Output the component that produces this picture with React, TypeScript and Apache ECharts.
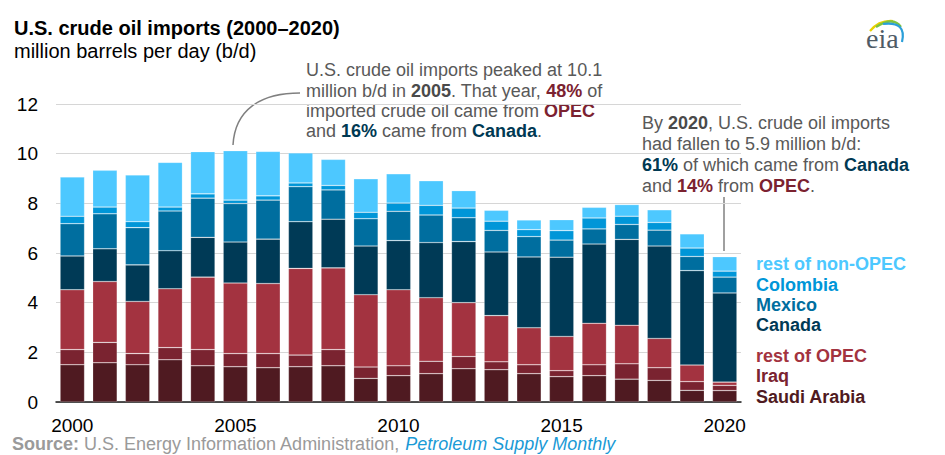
import React, { useEffect, useRef } from "react";
import * as echarts from "echarts";

const years = ["2000","2001","2002","2003","2004","2005","2006","2007","2008","2009","2010","2011","2012","2013","2014","2015","2016","2017","2018","2019","2020"];
const saudiArabia = [1.50,1.58,1.50,1.70,1.46,1.42,1.38,1.42,1.46,0.95,1.06,1.14,1.34,1.30,1.14,1.02,1.06,0.92,0.87,0.47,0.46];
const iraq = [0.61,0.82,0.45,0.49,0.65,0.53,0.57,0.47,0.65,0.46,0.40,0.50,0.49,0.32,0.36,0.24,0.44,0.62,0.51,0.35,0.21];
const restOfOPEC = [2.41,2.45,2.10,2.37,2.92,2.84,2.82,3.49,3.29,2.91,3.06,2.56,2.17,1.86,1.49,1.38,1.67,1.55,1.18,0.67,0.13];
const canada = [1.36,1.32,1.47,1.53,1.60,1.65,1.79,1.88,1.96,1.96,1.98,2.22,2.46,2.56,2.85,3.19,3.19,3.46,3.72,3.80,3.59];
const mexico = [1.30,1.41,1.50,1.60,1.58,1.55,1.57,1.41,1.18,1.10,1.18,1.11,0.96,0.87,0.82,0.69,0.61,0.60,0.64,0.57,0.64];
const colombia = [0.30,0.27,0.24,0.16,0.17,0.14,0.17,0.15,0.18,0.26,0.33,0.39,0.39,0.37,0.28,0.38,0.44,0.33,0.31,0.34,0.24];
const restOfNonOPEC = [1.58,1.48,1.88,1.80,1.70,1.99,1.79,1.21,1.05,1.35,1.18,0.99,0.70,0.44,0.39,0.44,0.43,0.47,0.51,0.57,0.58];
const yTicks = { min: 0, max: 12, interval: 2 };

const FONT = "'Liberation Sans', Arial, Helvetica, sans-serif";
const C = {
  saudi: "#4F1A21",
  iraq: "#7A2330",
  restOPEC: "#A33340",
  canada: "#003A56",
  mexico: "#006E9F",
  colombia: "#0096D8",
  restNon: "#4DC8FF",
};
const GRAY = "#595959";

function rp(size: number, weight: string, fill: string, style = "normal") {
  return { fontSize: size, fontFamily: FONT, fontWeight: weight, fontStyle: style, fill };
}

function txt(text: string, x: number, y: number, size: number, weight: string, fill: string, rich?: any, align = "left") {
  return {
    type: "text",
    x,
    y,
    silent: true,
    style: {
      text,
      fontSize: size,
      fontFamily: FONT,
      fontWeight: weight,
      fill,
      align,
      verticalAlign: "middle",
      rich: rich || {},
    },
  };
}

export default function App() {
  const ref = useRef<HTMLDivElement>(null);
  useEffect(() => {
    const chart = echarts.init(ref.current!, null, { renderer: "svg" });
    const mk = (name: string, data: number[], color: string) => ({
      name,
      type: "bar",
      stack: "total",
      data,
      barCategoryGap: "25%",
      itemStyle: { color, borderColor: "rgba(255,255,255,0.35)", borderWidth: 0.6 },
      emphasis: { disabled: true },
    });
    const annRich = {
      b: rp(18, "bold", "#4a4a4a"),
      r: rp(18, "bold", "#7B2230"),
      c: rp(18, "bold", "#003953"),
    };
    const option: any = {
      animation: false,
      grid: { left: 56, right: 204, top: 104, bottom: 53 },
      xAxis: {
        type: "category",
        data: years,
        axisTick: { show: false },
        axisLine: { lineStyle: { color: "#1a1a1a", width: 1.5 } },
        axisLabel: { interval: 4, fontSize: 19, fontFamily: FONT, color: "#000", margin: 14 },
      },
      yAxis: {
        type: "value",
        min: yTicks.min,
        max: yTicks.max,
        interval: yTicks.interval,
        axisLine: { show: false },
        axisTick: { show: false },
        axisLabel: { fontSize: 19, fontFamily: FONT, color: "#000", margin: 18 },
        splitLine: { lineStyle: { color: "#d6d6d6", width: 1.2 } },
      },
      series: [
        mk("Saudi Arabia", saudiArabia, C.saudi),
        mk("Iraq", iraq, C.iraq),
        mk("rest of OPEC", restOfOPEC, C.restOPEC),
        mk("Canada", canada, C.canada),
        mk("Mexico", mexico, C.mexico),
        mk("Colombia", colombia, C.colombia),
        mk("rest of non-OPEC", restOfNonOPEC, C.restNon),
      ],
      graphic: [
        txt("U.S. crude oil imports (2000\u20132020)", 14, 28, 20, "bold", "#000"),
        txt("million barrels per day (b/d)", 14, 51, 20, "normal", "#000"),
        // annotation 1
        txt("U.S. crude oil imports peaked at 10.1", 306, 70, 18, "normal", GRAY),
        txt("million b/d in {b|2005}. That year, {r|48%} of", 306, 90.5, 18, "normal", GRAY, annRich),
        txt("imported crude oil came from {r|OPEC}", 306, 111, 18, "normal", GRAY, annRich),
        txt("and {c|16%} came from {c|Canada}.", 306, 131.3, 18, "normal", GRAY, annRich),
        {
          type: "bezierCurve",
          silent: true,
          shape: { x1: 300, y1: 93, cpx1: 260, cpy1: 93, cpx2: 235, cpy2: 110, x2: 233, y2: 145 },
          style: { stroke: "#808080", lineWidth: 1.5, fill: "none" },
        },
        // annotation 2
        txt("By {b|2020}, U.S. crude oil imports", 642, 123.3, 18, "normal", GRAY, annRich),
        txt("had fallen to 5.9 million b/d:", 642, 144, 18, "normal", GRAY, annRich),
        txt("{c|61%} of which came from {c|Canada}", 642, 165, 18, "normal", GRAY, annRich),
        txt("and {r|14%} from {r|OPEC}.", 642, 185.7, 18, "normal", GRAY, annRich),
        {
          type: "line",
          silent: true,
          shape: { x1: 724, y1: 197, x2: 724, y2: 251 },
          style: { stroke: "#808080", lineWidth: 1.5 },
        },
        // legend
        txt("rest of non-OPEC", 756, 264, 18, "bold", C.restNon),
        txt("Colombia", 756, 284.5, 18, "bold", C.colombia),
        txt("Mexico", 756, 304.5, 18, "bold", C.mexico),
        txt("Canada", 756, 325, 18, "bold", C.canada),
        txt("rest of OPEC", 756, 356, 18, "bold", C.restOPEC),
        txt("Iraq", 756, 376, 18, "bold", C.iraq),
        txt("Saudi Arabia", 756, 396.5, 18, "bold", C.saudi),
        // source
        txt("{s|Source:} U.S. Energy Information Administration, {i|Petroleum Supply Monthly}", 12, 444, 18, "normal", "#9a9a9a", {
          s: rp(18, "bold", "#9a9a9a"),
          i: rp(18, "normal", "#1a9ad6", "italic"),
        }),
        // eia logo
        {
          type: "text",
          x: 866,
          y: 38,
          silent: true,
          style: { text: "eia", fontSize: 28, fontFamily: "'Liberation Serif', 'DejaVu Serif', serif", fill: "#4f5b66", verticalAlign: "middle" },
        },
        {
          type: "bezierCurve",
          silent: true,
          shape: { x1: 870, y1: 31, cpx1: 879, cpy1: 20, x2: 893, y2: 21 },
          style: { stroke: "#e8d200", lineWidth: 2.2, fill: "none" },
        },
        {
          type: "bezierCurve",
          silent: true,
          shape: { x1: 876, y1: 27, cpx1: 893, cpy1: 16, x2: 901, y2: 27 },
          style: { stroke: "#7cc242", lineWidth: 2.2, fill: "none" },
        },
        {
          type: "bezierCurve",
          silent: true,
          shape: { x1: 883, y1: 24, cpx1: 907, cpy1: 21, x2: 902, y2: 42 },
          style: { stroke: "#2b9fd9", lineWidth: 2.2, fill: "none" },
        },
      ],
    };
    chart.setOption(option);
    return () => chart.dispose();
  }, []);
  return <div ref={ref} style={{ position: "fixed", left: 0, top: 0, width: 945, height: 455, background: "#fff" }} />;
}
